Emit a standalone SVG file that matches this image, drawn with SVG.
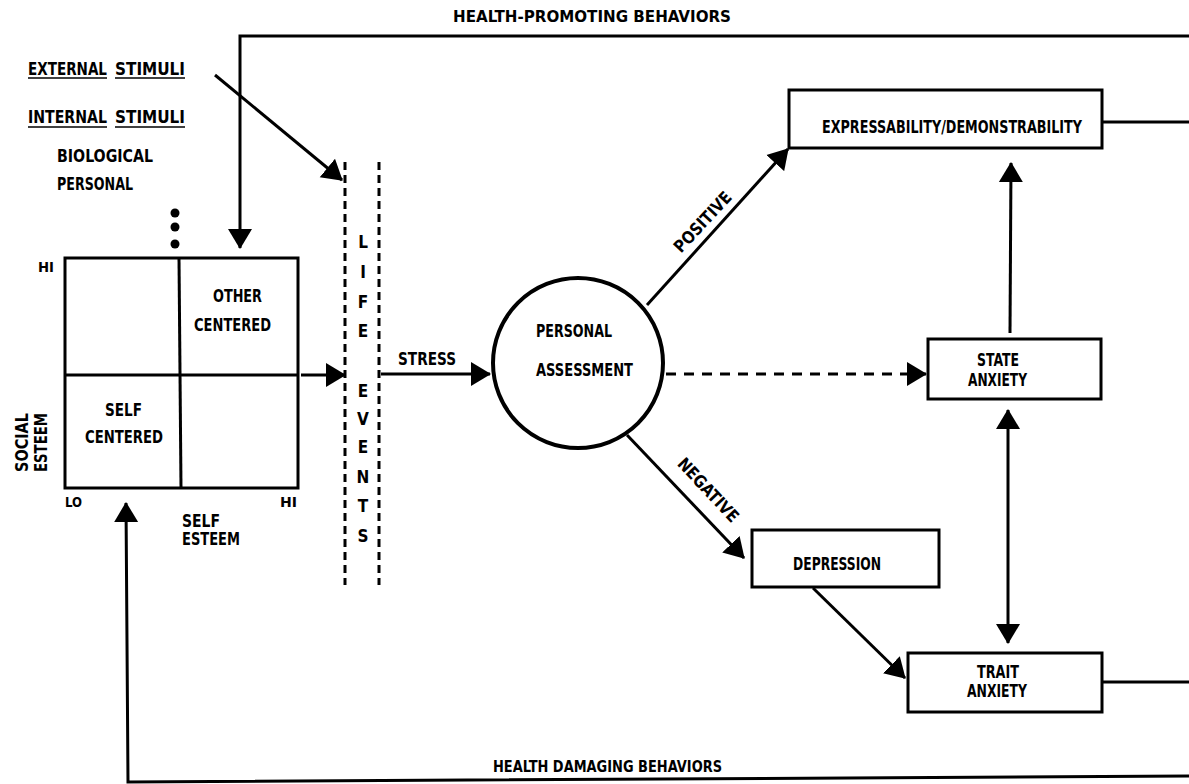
<svg xmlns="http://www.w3.org/2000/svg" width="1189" height="784" viewBox="0 0 1189 784">
<style>
text{font-family:"DejaVu Sans","Liberation Sans",sans-serif;font-stretch:condensed;font-weight:bold;font-size:17px;fill:#000}
.c{text-anchor:middle}
.s{font-size:15px}
.t{font-size:14px}
.ln{stroke:#000;stroke-width:3;fill:none}
.box{stroke:#000;stroke-width:3;fill:#fff}
.dash{stroke:#000;stroke-width:3;fill:none;stroke-dasharray:8 5}
.ul{stroke:#000;stroke-width:1.5}
</style>
<defs>
<marker id="ah" markerUnits="userSpaceOnUse" markerWidth="20" markerHeight="26" refX="19" refY="12" orient="auto-start-reverse" viewBox="0 0 20 24">
<path d="M0,0 L20,12 L0,24 z" fill="#000"/>
</marker>
</defs>
<rect width="1189" height="784" fill="#fff"/>

<g id="labels">
<text x="453" y="22" class="s" textLength="278" lengthAdjust="spacingAndGlyphs">HEALTH-PROMOTING BEHAVIORS</text>
<text x="28" y="75" textLength="79" lengthAdjust="spacingAndGlyphs">EXTERNAL</text>
<text x="115" y="75" textLength="70" lengthAdjust="spacingAndGlyphs">STIMULI</text>
<line x1="28" y1="78" x2="107" y2="78" class="ul"/>
<line x1="115" y1="78" x2="185" y2="78" class="ul"/>
<text x="28" y="123" textLength="79" lengthAdjust="spacingAndGlyphs">INTERNAL</text>
<text x="115" y="123" textLength="70" lengthAdjust="spacingAndGlyphs">STIMULI</text>
<line x1="28" y1="127" x2="107" y2="127" class="ul"/>
<line x1="115" y1="127" x2="185" y2="127" class="ul"/>
<text x="57" y="162" textLength="96" lengthAdjust="spacingAndGlyphs">BIOLOGICAL</text>
<text x="57" y="190" textLength="76" lengthAdjust="spacingAndGlyphs">PERSONAL</text>
<circle cx="175" cy="213" r="4.5"/>
<circle cx="175" cy="227" r="4.5"/>
<circle cx="175" cy="244" r="4.5"/>
<text x="493" y="772" class="s" textLength="229" lengthAdjust="spacingAndGlyphs">HEALTH DAMAGING BEHAVIORS</text>
</g>

<g id="grid">
<rect x="65" y="258" width="233" height="230" fill="none" stroke="#000" stroke-width="3"/>
<line x1="179" y1="258" x2="181" y2="488" stroke="#000" stroke-width="3"/>
<line x1="65" y1="375" x2="298" y2="375" stroke="#000" stroke-width="3"/>
<text x="38" y="272" class="t" textLength="16" lengthAdjust="spacingAndGlyphs">HI</text>
<text x="65" y="507" class="t" textLength="17" lengthAdjust="spacingAndGlyphs">LO</text>
<text x="280" y="507" class="t" textLength="17" lengthAdjust="spacingAndGlyphs">HI</text>
<text x="213" y="302" textLength="49" lengthAdjust="spacingAndGlyphs">OTHER</text>
<text x="194" y="331" textLength="77" lengthAdjust="spacingAndGlyphs">CENTERED</text>
<text x="105" y="416" textLength="37" lengthAdjust="spacingAndGlyphs">SELF</text>
<text x="85" y="443" textLength="78" lengthAdjust="spacingAndGlyphs">CENTERED</text>
<text transform="translate(28,472) rotate(-90)" textLength="59" lengthAdjust="spacingAndGlyphs">SOCIAL</text>
<text transform="translate(47,472) rotate(-90)" textLength="59" lengthAdjust="spacingAndGlyphs">ESTEEM</text>
<text x="182" y="527" textLength="38" lengthAdjust="spacingAndGlyphs">SELF</text>
<text x="182" y="545" textLength="58" lengthAdjust="spacingAndGlyphs">ESTEEM</text>
</g>

<g id="life-events">
<line x1="345" y1="162" x2="345" y2="585" class="dash"/>
<line x1="379" y1="162" x2="379" y2="585" class="dash"/>
<text x="363" y="248" class="c">L</text>
<text x="363" y="278" class="c">I</text>
<text x="363" y="308" class="c">F</text>
<text x="363" y="337" class="c">E</text>
<text x="363" y="397" class="c">E</text>
<text x="363" y="425" class="c">V</text>
<text x="363" y="453" class="c">E</text>
<text x="363" y="483" class="c">N</text>
<text x="363" y="512" class="c">T</text>
<text x="363" y="542" class="c">S</text>
</g>

<g id="personal-assessment">
<circle cx="578" cy="363" r="85" fill="#fff" stroke="#000" stroke-width="4"/>
<text x="536" y="337" textLength="76" lengthAdjust="spacingAndGlyphs">PERSONAL</text>
<text x="536" y="376" textLength="97" lengthAdjust="spacingAndGlyphs">ASSESSMENT</text>
</g>

<g id="expressability">
<rect x="789" y="90" width="313" height="58" class="box"/>
<text x="822" y="133" textLength="260" lengthAdjust="spacingAndGlyphs">EXPRESSABILITY/DEMONSTRABILITY</text>
</g>

<g id="state-anxiety">
<rect x="928" y="339" width="173" height="60" class="box"/>
<text x="977" y="366" textLength="42" lengthAdjust="spacingAndGlyphs">STATE</text>
<text x="968" y="386" textLength="59" lengthAdjust="spacingAndGlyphs">ANXIETY</text>
</g>

<g id="depression">
<rect x="752" y="530" width="187" height="57" class="box"/>
<text x="793" y="570" textLength="88" lengthAdjust="spacingAndGlyphs">DEPRESSION</text>
</g>

<g id="trait-anxiety">
<rect x="908" y="653" width="194" height="59" class="box"/>
<text x="977" y="678" textLength="42" lengthAdjust="spacingAndGlyphs">TRAIT</text>
<text x="967" y="697" textLength="60" lengthAdjust="spacingAndGlyphs">ANXIETY</text>
</g>

<g id="connectors">
<polyline points="1189,36 240,36 240,248" class="ln" marker-end="url(#ah)"/>
<line x1="215" y1="75" x2="342" y2="180" class="ln" marker-end="url(#ah)"/>
<line x1="301" y1="375" x2="345" y2="375" class="ln" marker-end="url(#ah)"/>
<line x1="381" y1="374" x2="490" y2="374" class="ln" marker-end="url(#ah)"/>
<text x="398" y="365" textLength="58" lengthAdjust="spacingAndGlyphs">STRESS</text>
<line x1="647" y1="305" x2="788" y2="149" class="ln" marker-end="url(#ah)"/>
<text transform="translate(707,226) rotate(-47)" class="c" textLength="76" lengthAdjust="spacingAndGlyphs">POSITIVE</text>
<line x1="627" y1="435" x2="744" y2="558" class="ln" marker-end="url(#ah)"/>
<text transform="translate(704,494) rotate(47)" class="c" textLength="81" lengthAdjust="spacingAndGlyphs">NEGATIVE</text>
<line x1="666" y1="374" x2="926" y2="374" class="ln" stroke-dasharray="10 8" marker-end="url(#ah)"/>
<line x1="1010" y1="333" x2="1011" y2="163" class="ln" marker-end="url(#ah)"/>
<line x1="1008" y1="410" x2="1008" y2="643" class="ln" marker-start="url(#ah)" marker-end="url(#ah)"/>
<line x1="813" y1="588" x2="905" y2="678" class="ln" marker-end="url(#ah)"/>
<line x1="1102" y1="122" x2="1189" y2="122" class="ln"/>
<line x1="1102" y1="682" x2="1189" y2="682" class="ln"/>
<polyline points="1189,776 128,782 126,503" class="ln" marker-end="url(#ah)"/>
</g>
</svg>
